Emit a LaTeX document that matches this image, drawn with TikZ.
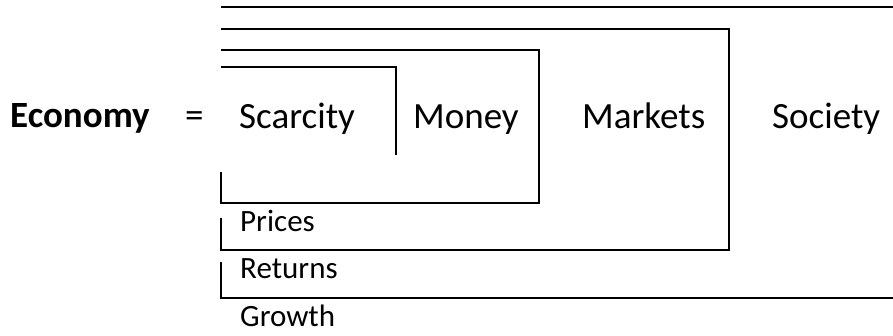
\documentclass[tikz,border=0pt]{standalone}
\usepackage{fontspec}
\setmainfont{Carlito}
\usetikzlibrary{positioning}

\begin{document}
\begin{tikzpicture}[
    x=1pt, y=-1pt,
    big/.style={anchor=base west, inner sep=0pt, font=\fontsize{37}{44}\selectfont},
    small/.style={anchor=base west, inner sep=0pt, font=\fontsize{31}{37}\selectfont},
    frame/.style={line width=1.6pt, line join=miter}
]
\useasboundingbox (0,0) rectangle (893,335);

% Left hand side
\node[big, font=\fontsize{37}{44}\selectfont\bfseries] (economy) at (10,127) {Economy};
\node[big] (equals) at (185,127) {=};

% Nested layers
\node[big] (scarcity) at (239,128) {Scarcity};
\node[big] (money) at (413,128) {Money};
\node[big] (markets) at (582,128) {Markets};
\node[big] (society) at (772,128) {Society};

% Layer outcomes
\node[small] (prices) at (240,231) {Prices};
\node[small] (returns) at (240,278) {Returns};
\node[small] (growth) at (240,326) {Growth};

% Brackets
\draw[frame] (221,67) -- (396,67) -- (396,155);
\draw[frame] (221,172) -- (221,203) -- (539,203) -- (539,50) -- (221,50);
\draw[frame] (221,218) -- (221,250) -- (729,250) -- (729,29) -- (221,29);
\draw[frame] (221,262) -- (221,298) -- (893,298);
\draw[frame] (221,7) -- (893,7);

\end{tikzpicture}
\end{document}
